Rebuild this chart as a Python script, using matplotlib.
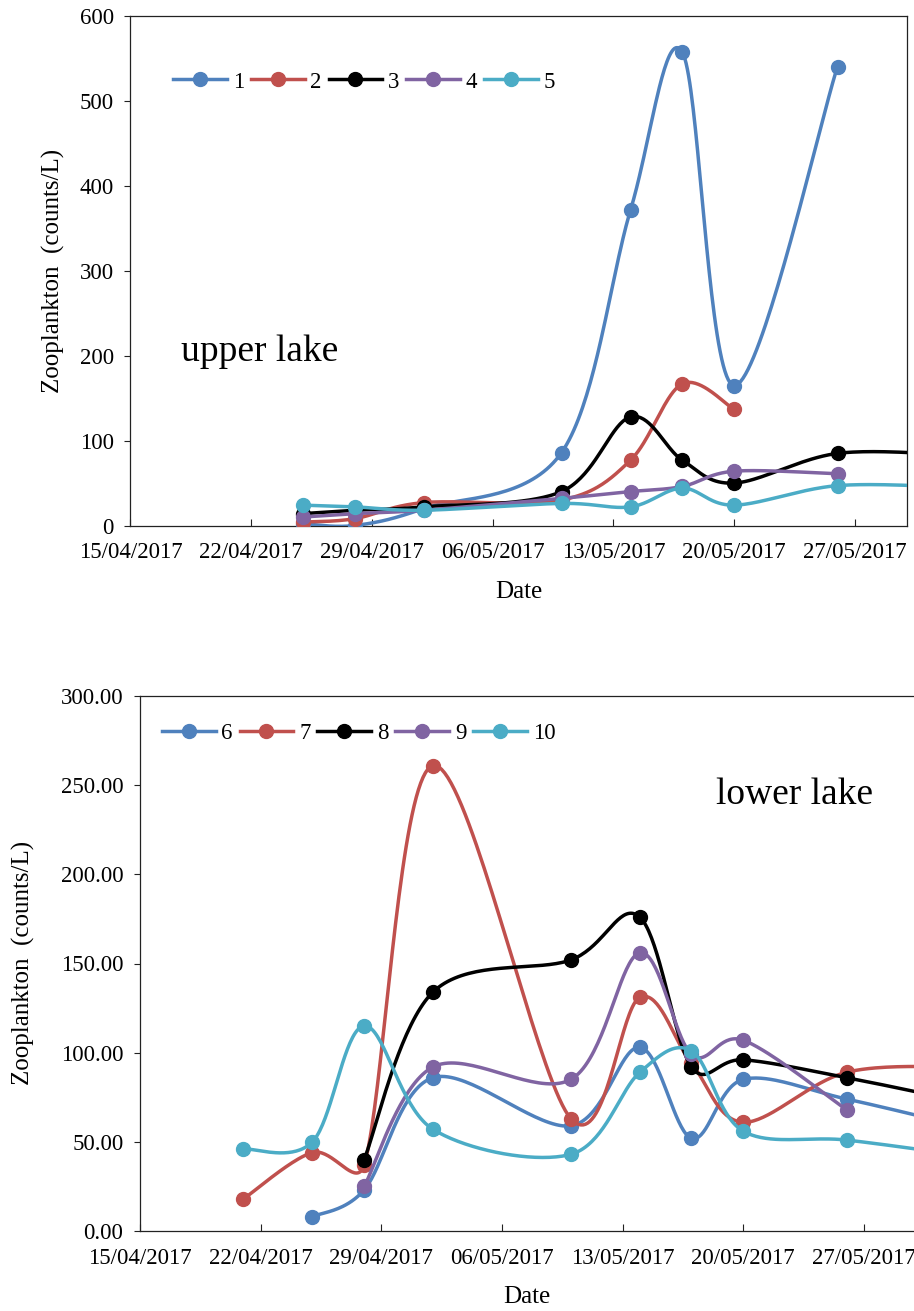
import numpy as np
import matplotlib
matplotlib.use("Agg")
import matplotlib.pyplot as plt
import matplotlib.dates as mdates
from matplotlib.lines import Line2D
from matplotlib.ticker import FixedLocator, FuncFormatter
from datetime import datetime

# ---------------- data ----------------
dates = ["21/04/2017", "25/04/2017", "28/04/2017", "02/05/2017", "10/05/2017",
         "14/05/2017", "17/05/2017", "20/05/2017", "26/05/2017", "02/06/2017"]

upper_labels = ["1", "2", "3", "4", "5"]
upper_1 = [None, 2, 0, 20, 86, 372, 558, 165, 541, None]
upper_2 = [None, 4, 8, 27, 30, 77, 167, 137, None, None]
upper_3 = [None, 14, 18, 22, 40, 128, 77, 50, 85, 83]
upper_4 = [None, 10, 14, 18, 32, 40, 46, 64, 61, None]
upper_5 = [None, 24, 22, 18, 26, 22, 44, 24, 47, 45]

lower_labels = ["6", "7", "8", "9", "10"]
lower_6 = [None, 8, 23, 86, 59, 103, 52, 85, 74, 58]
lower_7 = [18, 44, 37, 261, 63, 131, 94, 61, 89, 92]
lower_8 = [None, None, 40, 134, 152, 176, 92, 96, 86, 72]
lower_9 = [None, None, 25, 92, 85, 156, 99, 107, 68, None]
lower_10 = [46, 50, 115, 57, 43, 89, 101, 56, 51, 42]

x_start = "15/04/2017"
x_end = "30/05/2017"
tick_dates = ["15/04/2017", "22/04/2017", "29/04/2017", "06/05/2017",
              "13/05/2017", "20/05/2017", "27/05/2017"]

colors = ["#4F81BD", "#C0504D", "#000000", "#8064A2", "#4BACC6"]

# ---------------- style ----------------
plt.rcParams["font.family"] = ["Liberation Serif", "DejaVu Serif"]
TICK_FS = 16.5
TITLE_FS = 18
LW = 2.5
MS = 10

W, H = 914, 1311
fig = plt.figure(figsize=(W / 100, H / 100), dpi=100)


def d2n(s):
    return mdates.date2num(datetime.strptime(s, "%d/%m/%Y"))


def px_axes(left, right, top, bottom):
    return fig.add_axes([left / W, 1 - bottom / H, (right - left) / W, (bottom - top) / H])


def smooth(ax, xs, ys, n=40):
    """Excel-like smoothed line (Bezier with limited control vectors), in display space."""
    pts = ax.transData.transform(np.column_stack([xs, ys]))
    out = [pts[0]]
    for i in range(len(pts) - 1):
        p0 = pts[i - 1] if i > 0 else pts[i]
        p1 = pts[i]
        p2 = pts[i + 1]
        p3 = pts[i + 2] if i + 2 < len(pts) else pts[i + 1]
        d12 = np.hypot(*(p2 - p1))
        d02 = np.hypot(*(p2 - p0))
        d13 = np.hypot(*(p3 - p1))
        f1 = 1 / 6.0 if d02 == 0 else min(1 / 6.0, d12 / (2 * d02))
        f2 = 1 / 6.0 if d13 == 0 else min(1 / 6.0, d12 / (2 * d13))
        c1 = p1 + (p2 - p0) * f1
        c2 = p2 - (p3 - p1) * f2
        t = np.linspace(0, 1, n)[1:, None]
        seg = (1 - t) ** 3 * p1 + 3 * (1 - t) ** 2 * t * c1 + 3 * (1 - t) * t ** 2 * c2 + t ** 3 * p2
        out.extend(seg)
    out = np.array(out)
    return ax.transData.inverted().transform(out)


def setup(ax, ymax, ystep, fmt):
    ax.set_xlim(d2n(x_start), d2n(x_end))
    ax.set_ylim(0, ymax)
    ax.xaxis.set_major_locator(FixedLocator([d2n(s) for s in tick_dates]))
    ax.xaxis.set_major_formatter(mdates.DateFormatter("%d/%m/%Y"))
    ax.yaxis.set_major_locator(FixedLocator(np.arange(0, ymax + 0.1, ystep)))
    ax.yaxis.set_major_formatter(FuncFormatter(lambda v, p: fmt.format(v)))
    ax.tick_params(axis="x", direction="in", length=5, width=0.8, labelsize=TICK_FS, pad=12, colors="#222222",
                   labelcolor="black")
    ax.tick_params(axis="y", direction="out", length=4, width=0.8, labelsize=TICK_FS, pad=8, colors="#222222",
                   labelcolor="black")
    for sp in ax.spines.values():
        sp.set_linewidth(0.9)
        sp.set_color("#222222")


def draw(ax, series):
    xs_all = np.array([d2n(s) for s in dates])
    z = 3
    for vals, c in zip(series, colors):
        xs = np.array([x for x, v in zip(xs_all, vals) if v is not None])
        ys = np.array([v for v in vals if v is not None], dtype=float)
        cur = smooth(ax, xs, ys)
        ax.plot(cur[:, 0], cur[:, 1], color=c, lw=LW, zorder=z, solid_capstyle="round")
        ax.plot(xs, ys, "o", color=c, ms=MS, zorder=z + 0.5)
        z += 1


def legend(ax, labels, x_px, y_px):
    handles = [Line2D([], [], color=c, lw=LW, marker="o", ms=MS) for c in colors]
    fig.legend(handles, labels, loc="center left", bbox_to_anchor=(x_px / W, 1 - y_px / H),
               bbox_transform=fig.transFigure, ncol=5, frameon=False, fontsize=TICK_FS,
               handlelength=2.35, handletextpad=0.25, columnspacing=0.3, borderpad=0,
               borderaxespad=0)


# ---------------- upper lake ----------------
ax1 = px_axes(130.4, 906.5, 16.5, 525.5)
setup(ax1, 600, 100, "{:.0f}")
draw(ax1, [upper_1, upper_2, upper_3, upper_4, upper_5])
legend(ax1, upper_labels, 173, 82)
fig.text(181 / W, 1 - 361 / H, "upper lake", fontsize=27, ha="left", va="baseline")
fig.text(53 / W, 1 - 271 / H, "Zooplankton  (counts/L)", fontsize=TITLE_FS, rotation=90,
         ha="center", va="center")
fig.text(518.5 / W, 1 - 592 / H, "Date", fontsize=TITLE_FS, ha="center", va="center")

# ---------------- lower lake ----------------
ax2 = px_axes(140.1, 915.5, 696, 1231)
setup(ax2, 300, 50, "{:.2f}")
draw(ax2, [lower_6, lower_7, lower_8, lower_9, lower_10])
legend(ax2, lower_labels, 161.7, 733)
fig.text(716 / W, 1 - 804 / H, "lower lake", fontsize=27, ha="left", va="baseline")
fig.text(23 / W, 1 - 963 / H, "Zooplankton  (counts/L)", fontsize=TITLE_FS, rotation=90,
         ha="center", va="center")
fig.text(527 / W, 1 - 1297 / H, "Date", fontsize=TITLE_FS, ha="center", va="center")

fig.savefig("out.png", dpi=100)
